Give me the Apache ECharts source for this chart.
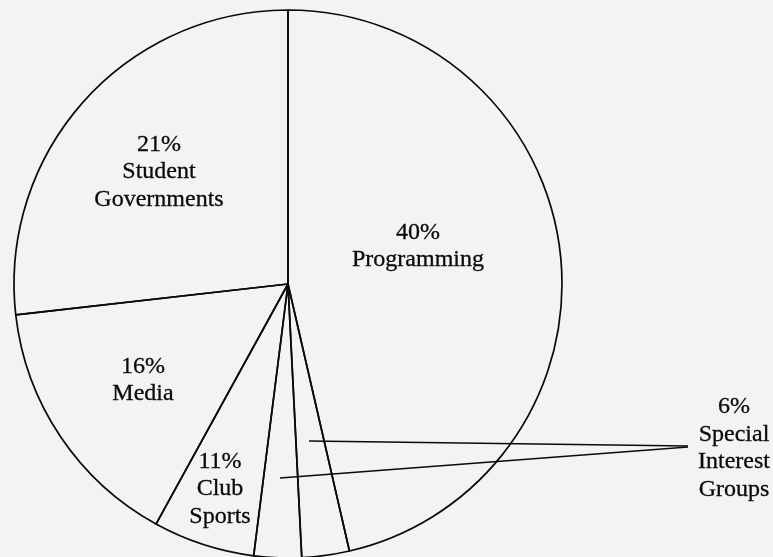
<!DOCTYPE html>
<html>
<head>
<meta charset="utf-8">
<script src="https://cdn.jsdelivr.net/npm/echarts@6/dist/echarts.min.js"></script>
<style>
  html, body { margin: 0; padding: 0; background: #f3f3f3; }
  #chart { width: 773px; height: 557px; }
</style>
</head>
<body>
<div id="chart"></div>
<script>
// Slice categories, clockwise from 12 o'clock
const categories = ['Programming', 'Special Interest Groups (a)', 'Special Interest Groups (b)', 'Club Sports', 'Media', 'Student Governments'];
// Printed percentages on the chart
const printedPercents = [40, 6, 6, 11, 16, 21];
// Slice sizes as drawn in the picture (share of the full circle, %)
const sliceShares = [46.4, 2.8, 2.8, 6.0, 15.2, 26.8];
// Label texts
const labelProgramming = ['40%', 'Programming'];
const labelStudentGov = ['21%', 'Student', 'Governments'];
const labelMedia = ['16%', 'Media'];
const labelClub = ['11%', 'Club', 'Sports'];
const labelSIG = ['6%', 'Special', 'Interest', 'Groups'];

const FONT = '24px "Liberation Serif", "Times New Roman", serif';
const INK = '#0a0a0a';

function txt(lines, x, y) {
  return {
    type: 'text', x: x, y: y, z: 100, silent: true,
    style: {
      text: lines.join('\n'), font: FONT, fill: INK,
      stroke: INK, lineWidth: 0.3,
      align: 'center', verticalAlign: 'middle', lineHeight: 27.5
    }
  };
}

const chart = echarts.init(document.getElementById('chart'), null, { renderer: 'canvas' });
chart.setOption({
  backgroundColor: '#f3f3f3',
  animation: false,
  series: [{
    type: 'pie',
    z: 1,
    center: [288, 284],
    radius: 274,
    startAngle: 90,
    clockwise: true,
    silent: true,
    label: { show: false },
    labelLine: { show: false },
    itemStyle: { color: 'rgba(0,0,0,0)', borderColor: INK, borderWidth: 1.7 },
    data: categories.map((c, i) => ({ name: c, value: sliceShares[i] }))
  }],
  graphic: [
    txt(labelProgramming, 418, 246),
    txt(labelStudentGov, 159, 172),
    txt(labelMedia, 143, 380),
    txt(labelClub, 220, 489),
    txt(labelSIG, 734, 448),
    { type: 'polyline', z: 100, silent: true, shape: { points: [[309, 441], [688, 446]] },
      style: { stroke: INK, lineWidth: 1.6, fill: null } },
    { type: 'polyline', z: 100, silent: true, shape: { points: [[280, 478], [688, 447]] },
      style: { stroke: INK, lineWidth: 1.6, fill: null } }
  ]
});
</script>
</body>
</html>
